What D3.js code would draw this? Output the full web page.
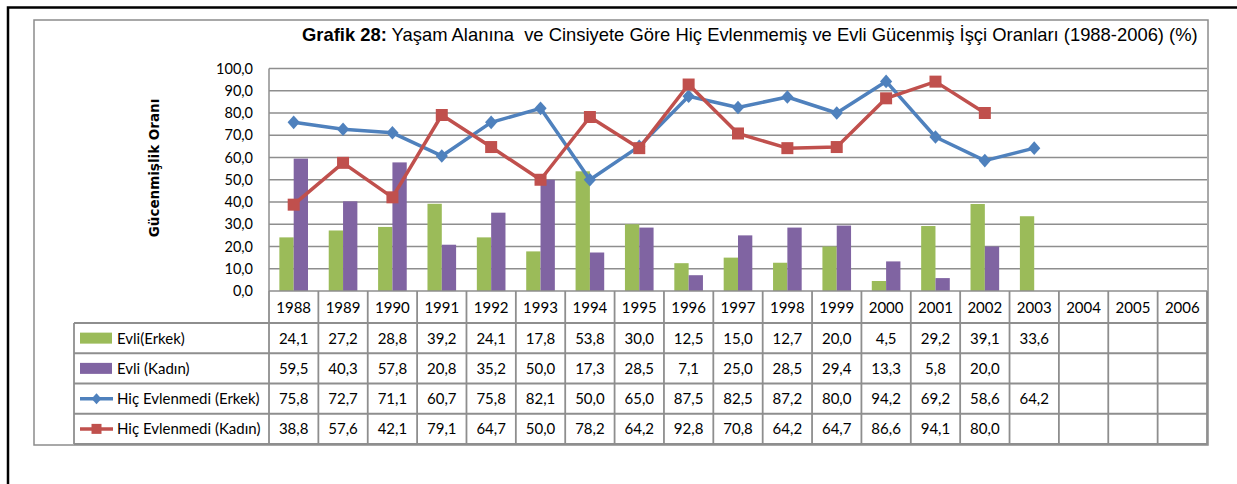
<!DOCTYPE html>
<html>
<head>
<meta charset="utf-8">
<script src="https://cdn.jsdelivr.net/npm/d3@7"></script>
<style>
  html, body { margin: 0; padding: 0; background: #fff; }
  svg { display: block; }
</style>
</head>
<body>
<svg id="chart" width="1237" height="484"></svg>
<script>
// Years shown on the category axis / table header
const years = ["1988","1989","1990","1991","1992","1993","1994","1995","1996","1997",
               "1998","1999","2000","2001","2002","2003","2004","2005","2006"];

// Series values (%), null where no figure is reported
const evliErkek = [24.1,27.2,28.8,39.2,24.1,17.8,53.8,30.0,12.5,15.0,12.7,20.0,4.5,29.2,39.1,33.6,null,null,null];
const evliKadin = [59.5,40.3,57.8,20.8,35.2,50.0,17.3,28.5,7.1,25.0,28.5,29.4,13.3,5.8,20.0,null,null,null,null];
const hicErkek  = [75.8,72.7,71.1,60.7,75.8,82.1,50.0,65.0,87.5,82.5,87.2,80.0,94.2,69.2,58.6,64.2,null,null,null];
const hicKadin  = [38.8,57.6,42.1,79.1,64.7,50.0,78.2,64.2,92.8,70.8,64.2,64.7,86.6,94.1,80.0,null,null,null,null];

const seriesNames = ["Evli(Erkek)", "Evli (Kadın)", "Hiç Evlenmedi (Erkek)", "Hiç Evlenmedi (Kadın)"];
const yTicks = [0,10,20,30,40,50,60,70,80,90,100];

const titleBold = "Grafik 28:";
const titleRest = " Yaşam Alanına  ve Cinsiyete Göre Hiç Evlenmemiş ve Evli Gücenmiş İşçi Oranları (1988-2006) (%)";
const yTitle = "Gücenmişlik Oranı";

const C = { green: "#9BBB59", purple: "#8064A2", blue: "#4F81BD", red: "#C0504D",
            grid: "#8e8e8e", table: "#8e8e8e" };
const FONT = "Lato, 'Open Sans', sans-serif";

const svg = d3.select("#chart");
const fmt = v => v == null ? "" : d3.format(".1f")(v).replace(".", ",");

// frames
svg.append("path").attr("d", "M8,484 V7.5 H1237").attr("fill", "none")
   .attr("stroke", "#000").attr("stroke-width", 2.5);
svg.append("rect").attr("x", 34).attr("y", 20).attr("width", 1174).attr("height", 425)
   .attr("fill", "#fff").attr("stroke", "#8c8c8c").attr("stroke-width", 1.5);

// title
const title = svg.append("text").attr("x", 302).attr("y", 41)
  .attr("font-family", "'Liberation Sans', Arial, sans-serif").attr("font-size", 18.4)
  .attr("fill", "#000").style("white-space", "pre");
title.append("tspan").attr("font-weight", "bold").text(titleBold);
title.append("tspan").text(titleRest);

// scales
const plotLeft = 269, plotRight = 1207, plotTop = 68.5, plotBottom = 291;
const x = d3.scaleBand().domain(years).range([plotLeft, plotRight]).padding(0);
const y = d3.scaleLinear().domain([0, 100]).range([plotBottom, plotTop]);
const barW = x.bandwidth() * 0.29;

// gridlines
svg.append("g").selectAll("line").data(yTicks.filter(t => t > 0)).join("line")
  .attr("x1", plotLeft).attr("x2", plotRight)
  .attr("y1", d => y(d)).attr("y2", d => y(d))
  .attr("stroke", C.grid).attr("stroke-width", 1.5);

// y axis labels
const yAxis = svg.append("g").attr("transform", `translate(${plotLeft - 16},0)`)
  .call(d3.axisLeft(y).tickValues(yTicks).tickSize(0).tickPadding(0).tickFormat(fmt));
yAxis.select(".domain").remove();
yAxis.selectAll("text").attr("font-family", FONT).attr("font-size", 14.5).attr("fill", "#000");

svg.append("line").attr("x1", plotLeft).attr("x2", plotLeft).attr("y1", plotTop).attr("y2", plotBottom)
  .attr("stroke", C.grid).attr("stroke-width", 1.5);

// y axis title
svg.append("text").attr("transform", "translate(159,168) rotate(-90)")
  .attr("text-anchor", "middle").attr("font-family", "'DejaVu Sans', Verdana, sans-serif")
  .attr("font-weight", "bold").attr("font-size", 13.5).attr("fill", "#000").text(yTitle);

// bars
const bars = svg.append("g");
[[evliErkek, C.green, -1], [evliKadin, C.purple, 0]].forEach(([vals, col, off]) => {
  bars.selectAll(null).data(years.map((yr, i) => ({ yr, v: vals[i] })).filter(d => d.v != null))
    .join("rect")
    .attr("x", d => x(d.yr) + x.bandwidth() / 2 + off * barW)
    .attr("y", d => y(d.v)).attr("width", barW).attr("height", d => y(0) - y(d.v))
    .attr("fill", col);
});
svg.append("line").attr("x1", plotLeft).attr("x2", plotRight).attr("y1", plotBottom).attr("y2", plotBottom)
  .attr("stroke", C.grid).attr("stroke-width", 1.5);

// markers
const diamond = (s) => `M0,${-s} L${s * 0.9},0 L0,${s} L${-s * 0.9},0 Z`;
const square = (s) => `M${-s},${-s} H${s} V${s} H${-s} Z`;

function drawLine(vals, col, shape) {
  const pts = years.map((yr, i) => ({ yr, v: vals[i] })).filter(d => d.v != null);
  const line = d3.line().x(d => x(d.yr) + x.bandwidth() / 2).y(d => y(d.v));
  svg.append("path").datum(pts).attr("d", line).attr("fill", "none")
    .attr("stroke", col).attr("stroke-width", 3.5).attr("stroke-linejoin", "round");
  svg.append("g").selectAll("path").data(pts).join("path")
    .attr("transform", d => `translate(${x(d.yr) + x.bandwidth() / 2},${y(d.v)})`)
    .attr("d", shape).attr("fill", col);
}
drawLine(hicErkek, C.blue, diamond(6.8));
drawLine(hicKadin, C.red, square(6));

// data table
const tableLeft = 74, headerBottom = 323, tableBottom = 444;
const rowY = d3.scaleBand().domain(seriesNames).range([headerBottom, tableBottom]);
const tbl = svg.append("g");

// horizontal lines
[headerBottom].concat(seriesNames.map(s => rowY(s) + rowY.bandwidth())).forEach(yy => {
  tbl.append("line").attr("x1", tableLeft).attr("x2", plotRight).attr("y1", yy).attr("y2", yy)
    .attr("stroke", C.table).attr("stroke-width", 1.8);
});
// vertical lines
tbl.append("line").attr("x1", tableLeft).attr("x2", tableLeft).attr("y1", headerBottom).attr("y2", tableBottom)
  .attr("stroke", C.table).attr("stroke-width", 1.8);
years.forEach(yr => {
  tbl.append("line").attr("x1", x(yr)).attr("x2", x(yr)).attr("y1", plotBottom).attr("y2", tableBottom)
    .attr("stroke", C.table).attr("stroke-width", 1.8);
});
tbl.append("line").attr("x1", plotRight).attr("x2", plotRight).attr("y1", plotBottom).attr("y2", tableBottom)
  .attr("stroke", C.table).attr("stroke-width", 1.8);

// header years
tbl.selectAll("text.yr").data(years).join("text")
  .attr("x", d => x(d) + x.bandwidth() / 2).attr("y", (plotBottom + headerBottom) / 2 + 5.5)
  .attr("text-anchor", "middle").attr("font-family", FONT).attr("font-size", 15).attr("fill", "#000")
  .text(d => d);

// value cells
const allVals = [evliErkek, evliKadin, hicErkek, hicKadin];
seriesNames.forEach((name, r) => {
  const cy = rowY(name) + rowY.bandwidth() / 2 + 5.5;
  tbl.append("g").selectAll("text").data(years.map((yr, i) => ({ yr, v: allVals[r][i] })))
    .join("text")
    .attr("x", d => x(d.yr) + x.bandwidth() / 2).attr("y", cy)
    .attr("text-anchor", "middle").attr("font-family", FONT).attr("font-size", 15).attr("fill", "#000")
    .text(d => fmt(d.v));
  // legend label
  tbl.append("text").attr("x", 117).attr("y", cy)
    .attr("font-family", FONT).attr("font-size", 15).attr("fill", "#000").text(name);
  // legend key
  const ky = rowY(name) + rowY.bandwidth() / 2;
  if (r < 2) {
    tbl.append("rect").attr("x", 80).attr("y", ky - 5.5).attr("width", 32).attr("height", 11)
      .attr("fill", r === 0 ? C.green : C.purple);
  } else {
    const col = r === 2 ? C.blue : C.red;
    tbl.append("line").attr("x1", 80).attr("x2", 113).attr("y1", ky).attr("y2", ky)
      .attr("stroke", col).attr("stroke-width", 3.5);
    tbl.append("path").attr("transform", `translate(96.5,${ky})`)
      .attr("d", r === 2 ? diamond(5.5) : square(5)).attr("fill", col);
  }
});
</script>
</body>
</html>
